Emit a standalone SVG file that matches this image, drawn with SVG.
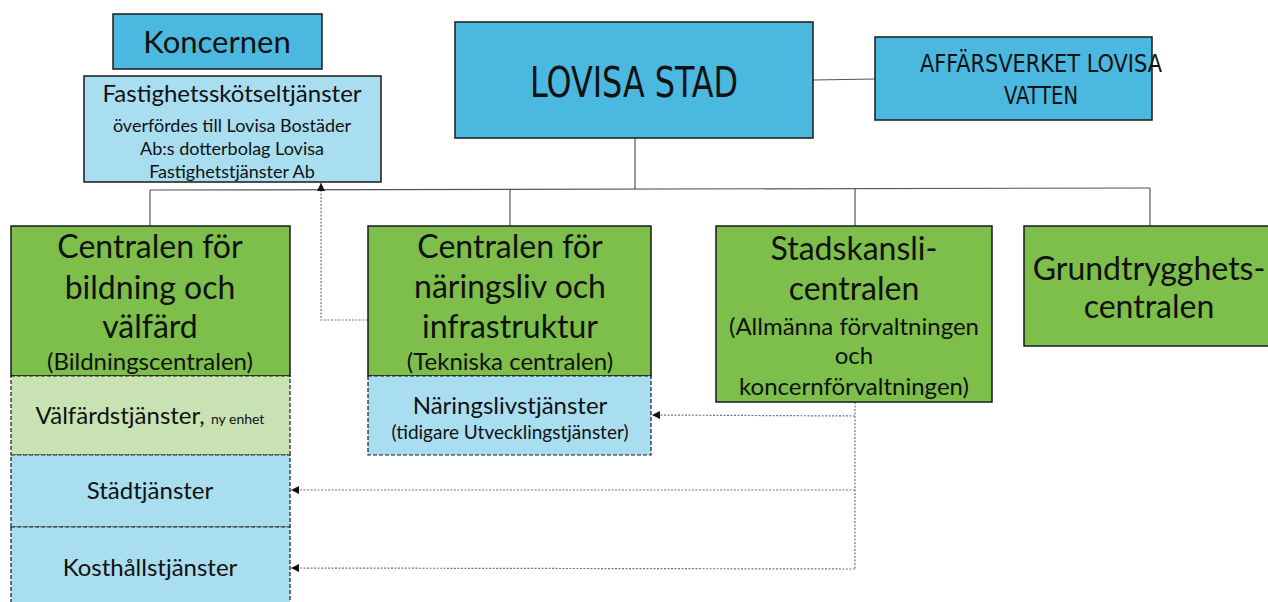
<svg xmlns="http://www.w3.org/2000/svg" width="1268" height="602" viewBox="0 0 1268 602">
<defs>
<style>
.t{font-family:Lato,"Noto Sans",sans-serif;fill:#111;text-anchor:middle}
.n{font-family:"Liberation Sans Narrow","DejaVu Sans Condensed",sans-serif;fill:#111;text-anchor:middle}
.bd{fill:#4bb8e0;stroke:#1a1a1a;stroke-width:1.5}
.bl{fill:#a9def0;stroke:#1a1a1a;stroke-width:1.5}
.bls{fill:#a9def0;stroke:#1a1a1a;stroke-width:1.2;stroke-dasharray:4 2}
.gr{fill:#7dbf4a;stroke:#1a1a1a;stroke-width:1.5}
.lg{fill:#c9e2b3;stroke:#1a1a1a;stroke-width:1.2;stroke-dasharray:4 2}
.ln{fill:none;stroke:#555;stroke-width:1.2}
.dl{fill:none;stroke:#777;stroke-width:1.2;stroke-dasharray:2 1.5}
</style>
<marker id="ah" viewBox="0 0 10 10" refX="10" refY="5" markerWidth="8" markerHeight="8" markerUnits="userSpaceOnUse" orient="auto">
<path d="M0,0 L10,5 L0,10 z" fill="#111"/>
</marker>
</defs>
<rect width="1268" height="602" fill="#fff"/>

<g id="connectors">
<line class="ln" x1="813" y1="80" x2="875" y2="79"/>
<line class="ln" x1="635" y1="138" x2="635" y2="189"/>
<line class="ln" x1="150" y1="190" x2="1150" y2="188"/>
<line class="ln" x1="150" y1="190" x2="150" y2="226"/>
<line class="ln" x1="510" y1="189" x2="510" y2="226"/>
<line class="ln" x1="855" y1="188" x2="855" y2="226"/>
<line class="ln" x1="1150" y1="188" x2="1150" y2="226"/>
<polyline class="dl" points="368,320 321,320 321,183" marker-end="url(#ah)"/>
<line class="dl" x1="855" y1="402" x2="855" y2="569"/>
<line class="dl" x1="855" y1="416" x2="652" y2="415" marker-end="url(#ah)"/>
<line class="dl" x1="855" y1="490" x2="291" y2="490" marker-end="url(#ah)"/>
<line class="dl" x1="855" y1="569" x2="291" y2="568" marker-end="url(#ah)"/>
</g>

<g id="koncernen">
<rect class="bd" x="113" y="14" width="209" height="55"/>
<text class="t" x="217" y="53" font-size="31">Koncernen</text>
</g>

<g id="fastighet">
<rect class="bl" x="84" y="76" width="297" height="106"/>
<text class="t" x="232" y="102" font-size="24">Fastighetsskötseltjänster</text>
<text class="t" x="232" y="132" font-size="18">överfördes till Lovisa Bostäder</text>
<text class="t" x="232" y="155" font-size="18">Ab:s dotterbolag Lovisa</text>
<text class="t" x="232" y="178" font-size="18">Fastighetstjänster Ab</text>
</g>

<g id="lovisa">
<rect class="bd" x="455" y="22" width="358" height="116"/>
<text class="n" x="634" y="97" font-size="43" textLength="208" lengthAdjust="spacingAndGlyphs">LOVISA STAD</text>
</g>

<g id="affarsverket">
<rect class="bd" x="875" y="37" width="277" height="83"/>
<text class="n" x="1041" y="72" font-size="25" textLength="242" lengthAdjust="spacingAndGlyphs">AFFÄRSVERKET LOVISA</text>
<text class="n" x="1041" y="104" font-size="25" textLength="74" lengthAdjust="spacingAndGlyphs">VATTEN</text>
</g>

<g id="bildning">
<rect class="gr" x="11" y="226" width="279" height="150"/>
<text class="t" x="150" y="258" font-size="32">Centralen för</text>
<text class="t" x="150" y="299" font-size="32">bildning och</text>
<text class="t" x="150" y="338" font-size="32">välfärd</text>
<text class="t" x="150" y="370" font-size="24">(Bildningscentralen)</text>
</g>

<g id="valfard">
<rect class="lg" x="11" y="376" width="279" height="79"/>
<text class="t" x="150" y="424" font-size="24">Välfärdstjänster, <tspan font-size="14">ny enhet</tspan></text>
</g>

<g id="stad">
<rect class="bls" x="11" y="455" width="279" height="72"/>
<text class="t" x="150" y="499" font-size="24">Städtjänster</text>
</g>

<g id="kost">
<rect class="bls" x="11" y="527" width="279" height="80"/>
<text class="t" x="150" y="576" font-size="24">Kosthållstjänster</text>
</g>

<g id="naringsliv">
<rect class="gr" x="368" y="226" width="283" height="150"/>
<text class="t" x="510" y="258" font-size="32">Centralen för</text>
<text class="t" x="510" y="298" font-size="32">näringsliv och</text>
<text class="t" x="510" y="338" font-size="32">infrastruktur</text>
<text class="t" x="510" y="370" font-size="24">(Tekniska centralen)</text>
</g>

<g id="naringslivstjanster">
<rect class="bls" x="368" y="376" width="283" height="79"/>
<text class="t" x="510" y="414" font-size="24">Näringslivstjänster</text>
<text class="t" x="510" y="439" font-size="19">(tidigare Utvecklingstjänster)</text>
</g>

<g id="stadskansli">
<rect class="gr" x="716" y="226" width="276" height="176"/>
<text class="t" x="854" y="260" font-size="32">Stadskansli-</text>
<text class="t" x="854" y="300" font-size="32">centralen</text>
<text class="t" x="854" y="335" font-size="24">(Allmänna förvaltningen</text>
<text class="t" x="854" y="364" font-size="24">och</text>
<text class="t" x="854" y="395" font-size="24">koncernförvaltningen)</text>
</g>

<g id="grundtrygghet">
<rect class="gr" x="1024" y="226" width="250" height="120"/>
<text class="t" x="1149" y="280" font-size="32">Grundtrygghets-</text>
<text class="t" x="1149" y="318" font-size="32">centralen</text>
</g>
</svg>
